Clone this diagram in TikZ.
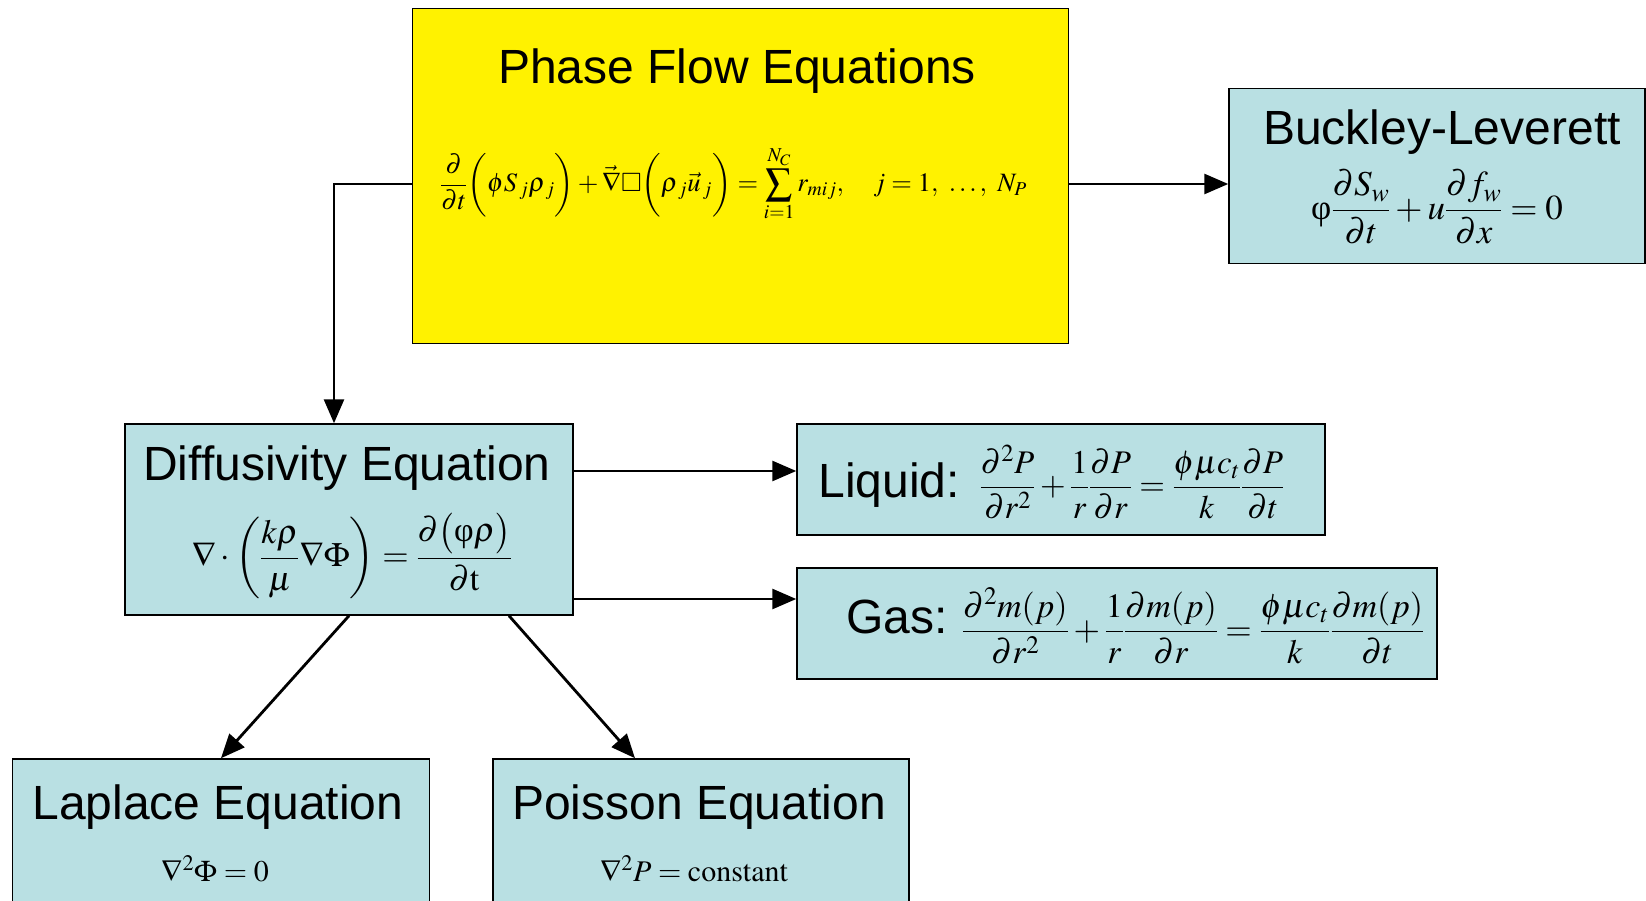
\documentclass[tikz,border=0pt]{standalone}
\usepackage{amsmath,amssymb}
\usepackage{mathptmx}
\usepackage[no-math]{fontspec}
\setmainfont{Liberation Sans}
\newfontfamily\eqfont{Liberation Serif}
\usetikzlibrary{positioning,arrows.meta,calc}
\definecolor{boxblue}{HTML}{B9E0E3}

\begin{document}
\begin{tikzpicture}[x=1pt,y=-1pt,
  box/.style={draw,line width=1.5pt,fill=boxblue,inner sep=0pt},
  ttl/.style={font=\fontsize{48}{56}\selectfont,anchor=base},
  eqn/.style={font=\fontsize{#1}{#1}\selectfont,inner sep=0pt},
  eqn/.default=34,
  link/.style={line width=2.8pt,-{Triangle[length=24pt,width=20pt]}}]
  \useasboundingbox (0,0) rectangle (1646,901);
  % boxes
  \node[box,fill=yellow,minimum width=656pt,minimum height=335pt] (phase) at (740.5,176) {};
  \node[box,minimum width=416pt,minimum height=175pt] (buckley) at (1437,176) {};
  \node[box,minimum width=448pt,minimum height=191pt] (diff) at (349,519.5) {};
  \node[box,minimum width=528pt,minimum height=111pt] (liquid) at (1061,479.5) {};
  \node[box,minimum width=640pt,minimum height=111pt] (gas) at (1117,623.5) {};
  \node[box,minimum width=417pt,minimum height=161pt] (laplace) at (221,839.5) {};
  \node[box,minimum width=416pt,minimum height=161pt] (poisson) at (701,839.5) {};
  % titles
  \node[ttl] (phasettl) at (737,84) {Phase Flow Equations};
  \node[ttl] (buckleyttl) at (1442,145) {Buckley-Leverett};
  \node[ttl] (diffttl) at (347,480) {Diffusivity Equation};
  \node[ttl,anchor=base west] (liquidttl) at (815,497.5) {Liquid:};
  \node[ttl,anchor=base west] (gasttl) at (843,633) {Gas:};
  \node[ttl] (laplacettl) at (218,819) {Laplace Equation};
  \node[ttl] (poissonttl) at (699,819) {Poisson Equation};
  % equations
  \node[eqn=26.5] (phaseeq) at (733.5,184) {$\displaystyle\frac{\partial}{\partial t}\biggl(\phi S_{\,j}\rho_{\,j}\biggr)+\vec{\nabla}\square\biggl(\rho_{\,j}\vec{u}_{\,j}\biggr)=\sum_{i=1}^{N_C} r_{mij},\quad j=1,\ \ldots,\ N_P$};
  \node[eqn=35] (buckleyeq) at (1437,207) {$\text{\eqfont φ}\dfrac{\partial S_w}{\partial t}+u\dfrac{\partial f_w}{\partial x}=0$};
  \node[eqn] (diffeq) at (352,556) {$\nabla\cdot\biggl(\dfrac{k\rho}{\mu}\nabla\Phi\biggr)=\dfrac{\partial\bigl(\text{\eqfont φ}\rho\bigr)}{\partial\mathrm{t}}$};
  \node[eqn=33] (liquideq) at (1132,482) {$\dfrac{\partial^2P}{\partial r^2}+\dfrac{1}{r}\dfrac{\partial P}{\partial r}=\dfrac{\phi\mu c_t}{k}\dfrac{\partial P}{\partial t}$};
  \node[eqn=34] (gaseq) at (1193,626) {$\dfrac{\partial^2 m(p)}{\partial r^2}+\dfrac{1}{r}\dfrac{\partial m(p)}{\partial r}=\dfrac{\phi\mu c_t}{k}\dfrac{\partial m(p)}{\partial t}$};
  \node[eqn=30] (laplaceeq) at (215,869) {$\nabla^2\Phi=0$};
  \node[eqn=30] (poissoneq) at (694,869) {$\nabla^2 P=\mathrm{constant}$};
  % connectors
  \draw[link] (phase.west |- phaseeq) -| ([xshift=-15pt]diff.north);
  \draw[link] (phase.east |- phaseeq) -- (buckley.west |- phaseeq);
  \draw[link] ([yshift=48.5pt]diff.east) -- ([yshift=48.5pt]diff.east -| liquid.west);
  \draw[link] ([yshift=-79.5pt]diff.east) -- ([yshift=-79.5pt]diff.east -| gas.west);
  \draw[link] (diff.south) -- (laplace.north);
  \draw[link] ([xshift=160pt]diff.south) -- ([xshift=-66pt]poisson.north);
\end{tikzpicture}
\end{document}
